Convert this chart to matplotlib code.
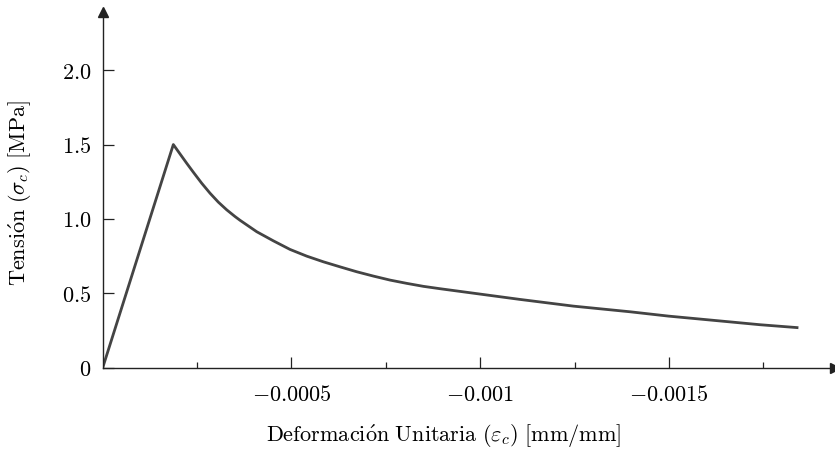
import matplotlib
matplotlib.use("Agg")
import matplotlib.pyplot as plt

plt.rcParams['mathtext.fontset'] = 'cm'
plt.rcParams['font.family'] = 'serif'

# curve: strain (mm/mm, negative) vs stress (MPa)
strain = [0.0, -0.0001871, -0.0002048, -0.0002226, -0.0002401, -0.0002623,
          -0.0002843, -0.0003063, -0.0003286, -0.0003506, -0.0003638,
          -0.0004081, -0.0004520, -0.0004963, -0.0005405, -0.0005845,
          -0.0006288, -0.0006730, -0.0007170, -0.0007613, -0.0008055,
          -0.0008495, -0.0008938, -0.0009997, -0.0011057, -0.0012470,
          -0.0013972, -0.0014987, -0.0015827, -0.0016622, -0.0017416,
          -0.0018431]
stress = [0.0, 1.500, 1.437, 1.374, 1.314, 1.240,
          1.173, 1.113, 1.061, 1.016, 0.991,
          0.914, 0.853, 0.795, 0.750, 0.712,
          0.678, 0.645, 0.616, 0.589, 0.567,
          0.547, 0.531, 0.495, 0.459, 0.414,
          0.376, 0.347, 0.327, 0.308, 0.289,
          0.269]

xticks = [-0.0005, -0.001, -0.0015]
xtick_labels = [r'$-0.0005$', r'$-0.001$', r'$-0.0015$']
xminor = [-0.00025, -0.00075, -0.00125, -0.00175]
yticks = [0, 0.5, 1.0, 1.5, 2.0]
ytick_labels = [r'$0$', r'$0.5$', r'$1.0$', r'$1.5$', r'$2.0$']

fig = plt.figure(figsize=(8.35, 4.49), dpi=100)
ax = fig.add_axes([0.123, 0.181, 0.877, 0.792])

ax.plot(strain, stress, color='#444444', lw=2.0,
        solid_joinstyle='round', solid_capstyle='butt')

ax.set_xlim(0, -0.00194)
ax.set_ylim(0, 2.39)

for s in ['top', 'right']:
    ax.spines[s].set_visible(False)
for s in ['left', 'bottom']:
    ax.spines[s].set_color('#222222')
    ax.spines[s].set_linewidth(1.0)

# arrow heads on the axes
ax.plot(1, 0, '>', color='#222222', ms=7, transform=ax.transAxes, clip_on=False)
ax.plot(0, 1, '^', color='#222222', ms=7, transform=ax.transAxes, clip_on=False)

ax.set_xticks(xticks, xtick_labels)
ax.set_xticks(xminor, minor=True)
ax.set_yticks(yticks, ytick_labels)
ax.tick_params(axis='both', which='major', direction='in', length=8, width=0.9,
               color='#222222', labelsize=16)
ax.tick_params(axis='x', which='major', pad=12)
ax.tick_params(axis='y', which='major', pad=8)
ax.tick_params(axis='x', which='minor', direction='in', length=4, width=0.9,
               color='#222222')

ax.set_xlabel(r'$\mathrm{Deformaci\acute{o}n\ Unitaria}\ (\varepsilon_c)\ [\mathrm{mm/mm}]$',
              fontsize=16)
ax.xaxis.set_label_coords(0.465, -0.155)
ax.set_ylabel(r'$\mathrm{Tensi\acute{o}n}\ (\sigma_c)\ [\mathrm{MPa}]$', fontsize=16)
ax.yaxis.set_label_coords(-0.094, 0.49)

fig.savefig('out.png', dpi=100)
